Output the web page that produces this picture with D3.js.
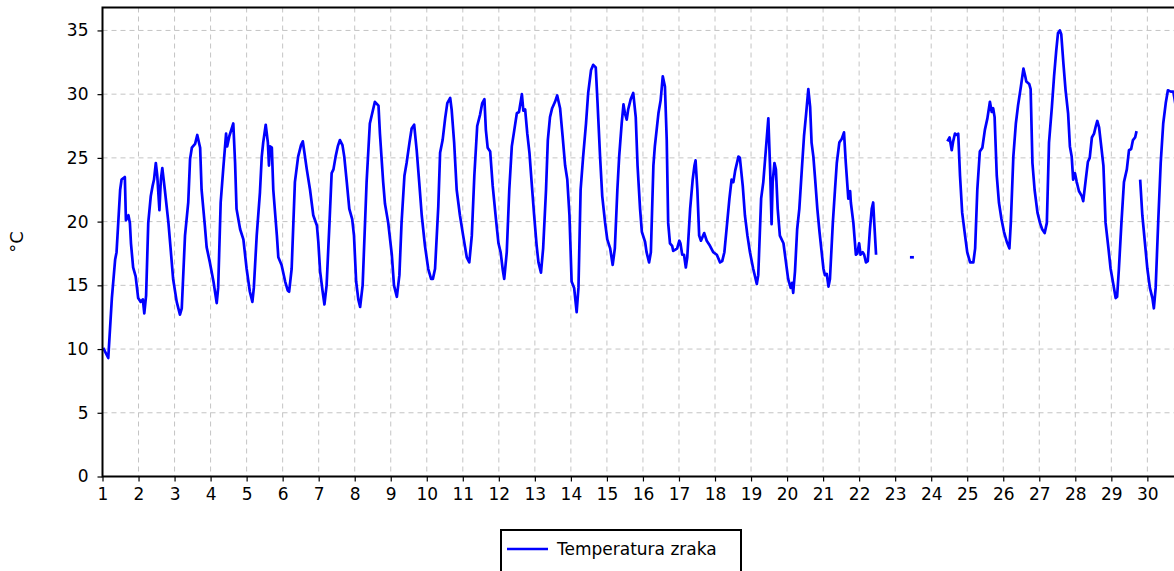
<!DOCTYPE html>
<html>
<head>
<meta charset="utf-8">
<script src="https://cdn.jsdelivr.net/npm/d3@7"></script>
<style>
  body { margin: 0; background: #fff; }
  text { font-family: "DejaVu Sans", Verdana, sans-serif; fill: #000; }
</style>
</head>
<body>
<svg id="chart" width="1174" height="571"></svg>
<script>
// air temperature, day of month (decimal) vs degrees C
var seg1 = [
  [1.02,10.1],[1.16,9.3],[1.26,14.0],[1.35,17.0],[1.39,17.6],[1.49,22.5],[1.53,23.3],[1.62,23.5],
  [1.65,20.1],[1.72,20.5],[1.76,19.9],[1.79,18.3],[1.85,16.4],[1.92,15.7],[1.99,14.0],[2.06,13.7],
  [2.12,13.9],[2.16,12.8],[2.21,14.2],[2.27,19.9],[2.34,22.0],[2.39,22.8],[2.43,23.3],[2.48,24.6],
  [2.52,23.6],[2.58,20.9],[2.62,23.3],[2.66,24.2],[2.73,22.5],[2.83,19.9],[2.89,17.9],[2.96,15.5],
  [3.06,13.7],[3.15,12.7],[3.20,13.2],[3.29,18.9],[3.38,21.5],[3.43,24.9],[3.48,25.8],[3.57,26.1],
  [3.63,26.8],[3.71,25.8],[3.75,22.5],[3.84,19.7],[3.89,18.0],[3.98,16.8],[4.08,15.3],[4.17,13.6],
  [4.21,14.8],[4.28,21.5],[4.35,24.1],[4.43,26.9],[4.46,25.9],[4.52,26.7],[4.63,27.7],[4.68,24.6],
  [4.72,21.0],[4.82,19.4],[4.91,18.6],[5.00,16.3],[5.09,14.5],[5.16,13.7],[5.20,14.8],[5.28,18.9],
  [5.37,22.3],[5.42,25.1],[5.46,26.2],[5.53,27.6],[5.59,26.2],[5.62,24.4],[5.65,25.9],[5.70,25.8],
  [5.74,22.5],[5.84,18.9],[5.88,17.2],[5.97,16.6],[6.07,15.3],[6.14,14.6],[6.18,14.5],[6.25,16.3],
  [6.34,23.1],[6.43,25.1],[6.51,26.0],[6.56,26.3],[6.60,25.5],[6.67,24.1],[6.76,22.5],[6.85,20.5],
  [6.95,19.7],[6.99,18.4],[7.04,16.1],[7.11,14.5],[7.16,13.5],[7.22,15.0],[7.30,19.9],[7.36,23.8],
  [7.41,24.1],[7.47,25.1],[7.53,25.9],[7.59,26.4],[7.66,26.0],[7.71,25.1],[7.78,23.1],[7.85,21.0],
  [7.93,20.2],[7.98,18.9],[8.04,15.3],[8.10,13.9],[8.15,13.3],[8.22,15.0],[8.33,23.1],[8.42,27.7],
  [8.56,29.4],[8.66,29.1],[8.70,26.9],[8.79,23.1],[8.84,21.4],[8.93,19.9],[9.03,17.4],[9.09,15.0],
  [9.17,14.1],[9.24,15.8],[9.30,19.9],[9.38,23.6],[9.44,24.6],[9.52,26.2],[9.58,27.3],[9.65,27.6],
  [9.72,25.6],[9.79,23.1],[9.86,20.5],[9.95,18.1],[10.04,16.3],[10.12,15.5],[10.17,15.5],[10.23,16.3],
  [10.32,21.2],[10.37,25.4],[10.44,26.4],[10.51,28.1],[10.57,29.3],[10.65,29.7],[10.69,28.8],[10.76,26.2],
  [10.83,22.5],[10.92,20.5],[11.01,18.9],[11.11,17.2],[11.18,16.8],[11.25,18.9],[11.32,23.6],[11.40,27.5],
  [11.48,28.4],[11.54,29.3],[11.60,29.6],[11.64,27.2],[11.69,25.8],[11.76,25.5],[11.83,22.8],[11.92,20.2],
  [11.99,18.3],[12.05,17.6],[12.11,16.2],[12.15,15.5],[12.22,17.6],[12.29,22.5],[12.36,25.9],[12.43,27.2],
  [12.50,28.5],[12.56,28.6],[12.64,30.0],[12.68,28.7],[12.73,28.8],[12.79,26.9],[12.85,25.4],[12.91,23.1],
  [12.98,20.5],[13.05,18.1],[13.10,16.8],[13.17,16.0],[13.23,17.9],[13.31,22.5],[13.36,26.4],[13.42,28.2],
  [13.48,28.9],[13.56,29.4],[13.62,29.9],[13.70,28.9],[13.77,26.7],[13.84,24.4],[13.90,23.3],[13.96,20.5],
  [14.02,15.3],[14.09,14.8],[14.16,12.9],[14.21,14.8],[14.27,22.5],[14.34,25.1],[14.42,27.7],[14.48,30.1],
  [14.56,31.9],[14.62,32.3],[14.69,32.1],[14.74,29.3],[14.81,25.1],[14.87,22.0],[14.95,19.9],[15.01,18.6],
  [15.09,17.9],[15.16,16.6],[15.22,17.9],[15.29,22.5],[15.34,25.1],[15.41,27.7],[15.46,29.2],[15.50,28.5],
  [15.55,28.0],[15.59,28.8],[15.66,29.6],[15.73,30.1],[15.80,28.2],[15.85,24.4],[15.92,21.0],[15.97,19.2],
  [16.06,18.4],[16.10,17.6],[16.17,16.8],[16.22,17.6],[16.29,24.4],[16.33,25.9],[16.43,28.5],[16.49,29.5],
  [16.55,31.4],[16.61,30.6],[16.66,26.4],[16.70,19.9],[16.75,18.3],[16.81,18.1],[16.84,17.7],[16.90,17.8],
  [16.95,17.9],[17.01,18.5],[17.04,18.3],[17.09,17.4],[17.14,17.4],[17.19,16.4],[17.23,17.2],[17.31,21.0],
  [17.38,23.3],[17.43,24.4],[17.46,24.8],[17.51,22.5],[17.56,18.9],[17.61,18.5],[17.70,19.1],[17.77,18.5],
  [17.86,18.1],[17.95,17.6],[18.05,17.4],[18.14,16.8],[18.20,16.9],[18.26,17.6],[18.32,19.4],[18.40,21.8],
  [18.46,23.3],[18.51,23.1],[18.56,24.0],[18.65,25.1],[18.69,25.0],[18.77,22.8],[18.83,20.5],[18.90,18.9],
  [18.97,17.6],[19.06,16.3],[19.16,15.1],[19.20,15.8],[19.28,21.8],[19.34,23.1],[19.41,25.6],[19.48,28.1],
  [19.53,24.1],[19.57,19.8],[19.60,23.1],[19.65,24.6],[19.69,24.1],[19.74,21.0],[19.80,18.9],[19.90,18.3],
  [19.96,17.0],[20.03,15.5],[20.10,14.8],[20.14,15.2],[20.17,14.4],[20.22,16.1],[20.28,19.4],[20.34,21.0],
  [20.41,24.1],[20.47,26.7],[20.53,28.5],[20.59,30.4],[20.64,29.0],[20.68,26.2],[20.73,25.1],[20.78,23.3],
  [20.84,21.0],[20.90,19.2],[20.96,17.6],[21.01,16.3],[21.05,15.8],[21.10,15.9],[21.15,14.9],[21.19,15.5],
  [21.27,19.9],[21.33,22.5],[21.38,24.6],[21.45,26.2],[21.52,26.5],[21.58,27.0],[21.63,24.6],[21.70,21.8],
  [21.75,22.4],[21.77,21.5],[21.84,19.9],[21.91,17.4],[21.95,17.5],[22.00,18.3],[22.04,17.4],[22.10,17.6],
  [22.14,17.4],[22.19,16.8],[22.24,16.9],[22.30,19.4],[22.35,21.0],[22.39,21.5],[22.42,19.9],[22.47,17.4]
];
var seg2 = [[23.41,17.2],[23.52,17.2]];
var seg3 = [
  [24.45,26.3],[24.51,26.6],[24.57,25.6],[24.61,26.3],[24.66,26.9],[24.71,26.8],[24.75,26.9],[24.80,23.6],
  [24.86,20.7],[24.94,18.9],[25.00,17.6],[25.08,16.8],[25.17,16.8],[25.22,17.9],[25.28,22.5],[25.35,25.5],
  [25.42,25.8],[25.49,27.2],[25.56,28.1],[25.63,29.4],[25.68,28.6],[25.72,28.9],[25.76,28.2],[25.82,23.6],
  [25.88,21.5],[25.95,20.2],[26.02,19.2],[26.10,18.4],[26.17,17.9],[26.21,19.9],[26.28,25.1],[26.35,27.7],
  [26.41,29.1],[26.49,30.6],[26.56,32.0],[26.61,31.4],[26.64,31.0],[26.72,30.8],[26.76,30.4],[26.81,24.6],
  [26.87,22.5],[26.95,20.7],[27.02,19.9],[27.08,19.4],[27.15,19.1],[27.21,19.9],[27.27,26.2],[27.35,29.0],
  [27.41,31.4],[27.47,33.4],[27.52,34.8],[27.57,35.0],[27.61,34.7],[27.67,32.4],[27.73,30.3],[27.80,28.5],
  [27.85,25.9],[27.90,25.1],[27.94,23.3],[27.99,23.8],[28.04,23.1],[28.10,22.4],[28.18,22.0],[28.22,21.6],
  [28.29,23.3],[28.35,24.7],[28.40,25.0],[28.46,26.6],[28.52,26.9],[28.57,27.5],[28.61,27.9],[28.66,27.4],
  [28.72,25.9],[28.78,24.4],[28.84,19.9],[28.92,17.9],[28.98,16.3],[29.06,15.0],[29.12,14.0],[29.16,14.1],
  [29.21,16.3],[29.28,19.9],[29.35,23.1],[29.43,24.1],[29.49,25.6],[29.55,25.7],[29.60,26.4],[29.66,26.6],
  [29.70,27.1]
];
var seg4 = [
  [29.80,23.3],[29.86,20.5],[29.93,18.4],[30.00,16.3],[30.07,14.8],[30.14,14.0],[30.18,13.2],[30.23,14.8],
  [30.30,19.9],[30.37,24.6],[30.44,27.7],[30.51,29.3],[30.57,30.3],[30.65,30.2],[30.72,30.2],[30.85,28.0]
];
var segments = [seg1, seg2, seg3, seg4];

var dayTicks = d3.range(1, 31);
var tempTicks = [0, 5, 10, 15, 20, 25, 30, 35];
var yLabel = "°C";
var legendLabel = "Temperatura zraka";

var plotLeft = 102.5, plotTop = 7.5, plotBottom = 476.5;
var x = d3.scaleLinear().domain([1, 31]).range([plotLeft, plotLeft + 30 * 36.03]);
var y = d3.scaleLinear().domain([0, 36.8]).range([plotBottom, plotTop]);

var svg = d3.select("#chart");

// grid
svg.append("g")
  .selectAll("line").data(dayTicks.slice(1)).enter().append("line")
  .attr("x1", function (d) { return x(d); }).attr("x2", function (d) { return x(d); })
  .attr("y1", plotTop).attr("y2", plotBottom)
  .attr("stroke", "#c4c4c4").attr("stroke-dasharray", "5,4");
svg.append("g")
  .selectAll("line").data(tempTicks.slice(1)).enter().append("line")
  .attr("x1", plotLeft).attr("x2", x(31))
  .attr("y1", function (d) { return y(d); }).attr("y2", function (d) { return y(d); })
  .attr("stroke", "#c4c4c4").attr("stroke-dasharray", "5,4");

// the temperature line, one path per run of readings
var line = d3.line()
  .x(function (d) { return x(d[0]); })
  .y(function (d) { return y(d[1]); });
svg.append("g")
  .selectAll("path").data(segments).enter().append("path")
  .attr("d", line)
  .attr("fill", "none")
  .attr("stroke", "#0000ff")
  .attr("stroke-width", 2.7)
  .attr("stroke-linejoin", "round");

// axes
var yAxis = svg.append("g")
  .attr("transform", "translate(" + plotLeft + ",0)")
  .call(d3.axisLeft(y).tickValues(tempTicks).tickSize(5).tickPadding(9));
var xAxis = svg.append("g")
  .attr("transform", "translate(0," + plotBottom + ")")
  .call(d3.axisBottom(x).tickValues(dayTicks).tickSize(5).tickPadding(6));
[yAxis, xAxis].forEach(function (a) {
  a.select(".domain").remove();
  a.selectAll("line").attr("stroke", "#000").attr("stroke-width", 1.2);
  a.selectAll("text").style("font-family", "'DejaVu Sans', Verdana, sans-serif")
    .style("font-size", "17px").attr("fill", "#000");
});

// frame
svg.append("path")
  .attr("d", "M" + x(31) + "," + plotTop + "H" + plotLeft + "V" + plotBottom + "H" + x(31))
  .attr("fill", "none").attr("stroke", "#000").attr("stroke-width", 2);

svg.append("text")
  .attr("transform", "translate(23," + ((plotTop + plotBottom) / 2) + ") rotate(-90)")
  .attr("text-anchor", "middle")
  .style("font-size", "18px")
  .text(yLabel);

// legend
var lg = svg.append("g").attr("transform", "translate(501,530)");
lg.append("rect").attr("width", 240).attr("height", 60)
  .attr("fill", "#fff").attr("stroke", "#000").attr("stroke-width", 2);
lg.append("line").attr("x1", 6).attr("x2", 47).attr("y1", 19).attr("y2", 19)
  .attr("stroke", "#0000ff").attr("stroke-width", 2.6);
lg.append("text").attr("x", 56).attr("y", 25).style("font-size", "17px").text(legendLabel);
</script>
</body>
</html>
